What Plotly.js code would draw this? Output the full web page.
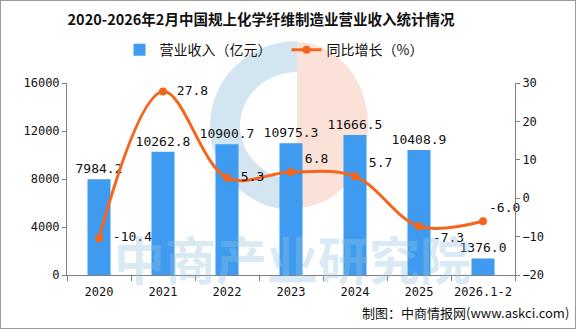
<!DOCTYPE html>
<html><head><meta charset="utf-8">
<script src="https://cdn.plot.ly/plotly-3.0.1.min.js"></script>
<style>html,body{margin:0;padding:0;background:#fff}#c{width:574px;height:327px;border:1px solid #9a9a9a}</style>
</head><body><div id="c"></div>
<script>
const categories = ["2020","2021","2022","2023","2024","2025","2026.1-2"];
const revenue = [7984.2, 10262.8, 10900.7, 10975.3, 11666.5, 10408.9, 1376.0];
const growth = [-10.4, 27.8, 5.3, 6.8, 5.7, -7.3, -6.0];
const growthPos = ["middle right","middle right","middle right","top right","top right","bottom right","top right"];

const L=66, T=82, W=448, H=192.5;
const px = x => (x-1-L)/W;
const py = y => (T+H-(y-1))/H;

const mono = "DejaVu Sans Mono, monospace";
const cjk = "Noto Sans CJK SC, sans-serif";

const traces = [
 {type:"bar", x:categories, y:revenue, name:"营业收入（亿元）", width:0.36,
  marker:{color:"#3E9BEF"}, text:revenue.map(v=>v.toFixed(1)), textposition:"outside", constraintext:"none",
  textfont:{family:mono,size:13,color:"#111"}, cliponaxis:false, hoverinfo:"none"},
 {type:"scatter", mode:"lines+markers+text", x:categories, y:growth, yaxis:"y2", name:"同比增长（%）",
  line:{color:"#F4661B",width:3,shape:"spline",smoothing:1}, marker:{color:"#F4661B",size:8},
  text:growth.map((v,i)=>(i===6?"":"\u00a0")+v.toFixed(1)), textposition:growthPos,
  textfont:{family:mono,size:13,color:"#111"}, cliponaxis:false, hoverinfo:"none"}
];

const axisCommon = {showline:true, linecolor:"#808080", ticks:"outside", ticklen:4, tickcolor:"#808080",
  tickfont:{family:mono,size:12,color:"#111"}, showgrid:false, zeroline:false, fixedrange:true};

const layout = {
 width:574, height:327, margin:{l:L,r:574-L-W,t:T,b:327-T-H},
 paper_bgcolor:"#fff", plot_bgcolor:"rgba(0,0,0,0)",
 title:{text:"<b>2020-2026年2月中国规上化学纤维制造业营业收入统计情况</b>", font:{family:cjk,size:14.5,color:"#111"}, x:260/574, xanchor:"center", y:1-19/327, yanchor:"middle"},
 showlegend:true,
 legend:{orientation:"h", x:px(124)-0.01, xanchor:"left", y:py(50), yanchor:"middle", font:{family:cjk,size:14,color:"#111"}, itemwidth:30, entrywidth:122, bgcolor:"rgba(0,0,0,0)"},
 xaxis:Object.assign({}, axisCommon, {type:"category", tickson:"boundaries", tickangle:0, ticklen:5, ticklabelstandoff:6}),
 yaxis:Object.assign({}, axisCommon, {range:[0,16000], dtick:4000, tickformat:"d"}),
 yaxis2:Object.assign({}, axisCommon, {range:[-20,30], dtick:10, overlaying:"y", side:"right", tickformat:"d"}),
 annotations:[
  {text:"<b>中商产业研究院</b>", xref:"paper", yref:"paper", x:px(292), y:py(258), xanchor:"center", yanchor:"middle", showarrow:false,
   font:{family:cjk,size:51,color:"rgba(150,195,225,0.35)"}},
  {text:"制图：中商情报网(www.askci.com)", xref:"paper", yref:"paper", x:px(571), y:py(313), xanchor:"right", yanchor:"middle", showarrow:false,
   font:{family:cjk,size:13,color:"#111"}}
 ]
};
function ellipsePath(cx,cy,rx,ry,a0,a1,rix,riy){
  let p=""; const n=40;
  for(let i=0;i<=n;i++){const a=(a0+(a1-a0)*i/n)*Math.PI/180; const x=px(cx+rx*Math.cos(a)), y=py(cy-ry*Math.sin(a)); p+=(i?"L":"M")+x+","+y+" ";}
  if(rix){for(let i=n;i>=0;i--){const a=(a0+(a1-a0)*i/n)*Math.PI/180; p+="L"+px(cx+rix*Math.cos(a))+","+py(cy-riy*Math.sin(a))+" ";}}
  return p+"Z";
}
layout.shapes=[
 {type:"path", xref:"paper", yref:"paper", layer:"below", line:{width:0}, fillcolor:"#D3E5F0", path:ellipsePath(297,126,87,85,90,270,57,54)},
 {type:"path", xref:"paper", yref:"paper", layer:"below", line:{width:0}, fillcolor:"#FBE2D8", path:ellipsePath(297,125,71,83,-90,90)}
];
Plotly.newPlot("c", traces, layout, {displayModeBar:false, staticPlot:true});
</script></body></html>
